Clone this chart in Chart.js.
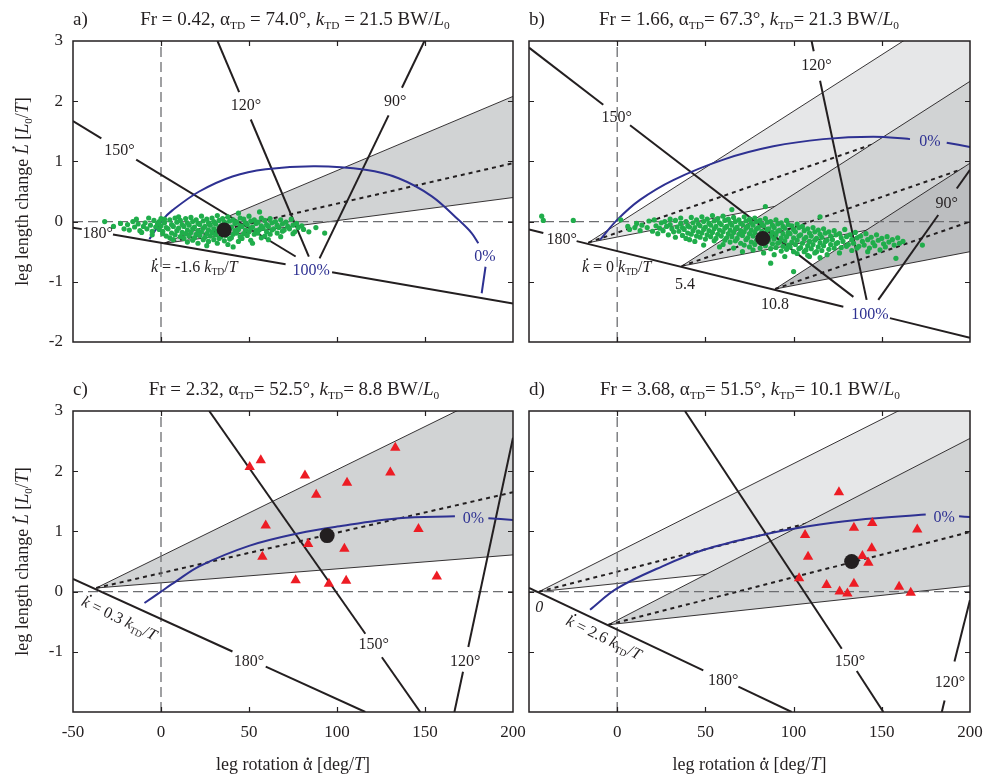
<!DOCTYPE html>
<html lang="en">
<head>
<meta charset="UTF-8">
<title>Leg rotation vs leg length change</title>
<script src="https://cdn.jsdelivr.net/npm/chart.js"></script>
<style>
  body { margin: 0; background: #fff; }
  #wrap { position: relative; width: 989px; height: 781px; }
  #wrap canvas { position: absolute; }
</style>
</head>
<body>
<div id="wrap">
  <canvas id="cA" width="521" height="370" style="left:0;top:0"></canvas>
  <canvas id="cB" width="468" height="370" style="left:521px;top:0"></canvas>
  <canvas id="cC" width="530" height="411" style="left:0;top:370px"></canvas>
  <canvas id="cD" width="468" height="411" style="left:521px;top:370px"></canvas>
</div>
<script>
  const FONT = 'Liberation Serif';
  const INK = '#231f20';
  const BLUE = '#2e3192';
  const GREEN = '#20ad4b';
  const RED = '#ed1c24';
  const DASH_GRAY = '#6d6e71';

  // axes
  const xTicks = [-50, 0, 50, 100, 150, 200];
  const xTickLabels = ['-50', '0', '50', '100', '150', '200'];
  const yTicks = [-2, -1, 0, 1, 2, 3];
  const yTickLabels = ['-2', '-1', '0', '1', '2', '3'];
  const xZero = [[0, -2], [0, 3]];
  const yZero = [[-50, 0], [200, 0]];

  // panel titles
  const aTitle = ['Fr = 0.42, α', {s: 'TD'}, ' = 74.0°, ', {i: 'k'}, {s: 'TD'}, ' = 21.5 BW/', {i: 'L'}, {s: '0'}];
  const bTitle = ['Fr = 1.66, α', {s: 'TD'}, '= 67.3°, ', {i: 'k'}, {s: 'TD'}, '= 21.3 BW/', {i: 'L'}, {s: '0'}];
  const cTitle = ['Fr = 2.32, α', {s: 'TD'}, '= 52.5°, ', {i: 'k'}, {s: 'TD'}, '= 8.8 BW/', {i: 'L'}, {s: '0'}];
  const dTitle = ['Fr = 3.68, α', {s: 'TD'}, '= 51.5°, ', {i: 'k'}, {s: 'TD'}, '= 10.1 BW/', {i: 'L'}, {s: '0'}];

  // wedges: [apex, upper end, lower end, mid (dotted) end]
  const aWedges = [[[2, -0.36], [200, 2.08], [200, 0.40], [200, 0.97]]];
  const bWedges = [
    [[-16.4, -0.35], [200, 3.71], [200, 0.883], [200, 1.844]],
    [[36.5, -0.74], [200, 2.33], [200, 0.19], [200, 0.916]],
    [[89.5, -1.12], [200, 0.97], [200, -0.5], [200, 0.0]]
  ];
  const cWedges = [[[-36.8, 0.06], [200, 3.46], [200, 0.61], [200, 1.65]]];
  const dWedges = [
    [[-44.3, 0.0], [200, 3.60], [200, 0.74], [200, 1.82]],
    [[-5, -0.55], [200, 2.545], [200, 0.095], [200, 0.99]]
  ];

  // angle lines (null = gap for label)
  const aLine150 = [[-50, 1.67], [-33.9, 1.384], null, [-14.1, 1.031], [76.5, -0.58]];
  const aLine120 = [[32.1, 3], [44.4, 2.15], null, [51, 1.696], [84, -0.58]];
  const aLine90 = [[149.7, 3], [136.9, 2.224], null, [129.3, 1.764], [90.1, -0.61]];
  const aLine180 = [[-50, -0.1], [-45, -0.125], null, [-27.3, -0.214], [70.8, -0.709], null, [97.2, -0.842], [200, -1.36]];
  const bLine150 = [[-50, 2.89], [-7.9, 1.94], null, [7.3, 1.60], [133.9, -1.25]];
  const bLine120 = [[110.2, 3], [111.4, 2.83], null, [115, 2.34], [141.4, -1.3]];
  const bLine90 = [[200, 0.86], [192.5, 0.55], null, [182, 0.11], [148, -1.3]];
  const bLine180 = [[-50, -0.13], [-41.9, -0.19], null, [-23, -0.324], [128.2, -1.413], null, [154.6, -1.603], [200, -1.93]];
  const cLine180 = [[-50, 0.21], [40.6, -0.995], null, [59.5, -1.246], [116.1, -2.0]];
  const cLine150 = [[27.4, 3], [116.1, -0.70], null, [125.5, -1.09], [147.3, -2.0]];
  const cLine120 = [[166.7, -2], [171.6, -1.33], null, [174.6, -0.92], [200, 2.556]];
  const dLine180 = [[-50, 0.06], [48.8, -1.31], null, [68.7, -1.58], [98.9, -2.0]];
  const dLine150 = [[38.4, 3], [127.3, -0.95], null, [135.8, -1.32], [150.9, -2.0]];
  const dLine120 = [[184, -2], [185.6, -1.81], null, [191.2, -1.16], [200, -0.14]];

  // 0% curves
  const aBlue = [[-6.6, -0.29], [1, 0.03], [6.6, 0.19], [21.7, 0.5], [40.6, 0.75], [59.5, 0.87], [87.8, 0.92], [116.1, 0.86], [135, 0.72], [153.9, 0.42], [169, 0.03], [176.5, -0.19], [180.3, -0.36], null, [184.4, -0.75], [182.2, -1.19]];
  const bBlue = [[-9.75, -0.305], [-0.3, 0.02], [12.9, 0.36], [31.8, 0.69], [60.2, 1.03], [88.5, 1.25], [116.8, 1.37], [145.2, 1.41], [166, 1.37], null, [186.8, 1.31], [200, 1.24]];
  const cBlue = [[-9.4, -0.19], [0, 0.0], [8.5, 0.17], [21.7, 0.42], [50, 0.76], [78.4, 0.97], [100, 1.08], [135, 1.22], [167, 1.25], null, [186, 1.22], [200, 1.19]];
  const dBlue = [[-15.4, -0.3], [-0.3, 0.05], [25.6, 0.42], [48.8, 0.69], [82.3, 0.94], [107.4, 1.08], [135.8, 1.19], [174.9, 1.28], null, [193.8, 1.25], [200, 1.24]];

  // measured strides (green) and trials (red), means (black)
  const aDots = [[-32,0.0],[-27,-0.08],[-23,-0.03],[-21,-0.12],[-19,-0.05],[-18,-0.14],[-16,0.0],[-15,-0.09],
    [-13,-0.04],[-12,-0.15],[-14,0.04],[-10,-0.08],[-9,-0.02],[-11,-0.18],[-7,0.06],[-6,-0.06],[-8,-0.12],[-5,-0.22],
    [-4,0.02],[-3,-0.09],[-5,-0.16],[-2,-0.04],[-1,0.0],[0,-0.07],[-1,-0.13],[1,-0.2],[0,0.05],
    [2,-0.02],[3,-0.1],[1,-0.16],[3,-0.24],[2,0.04],[5,0.03],[6,-0.05],[4,-0.12],[6,-0.19],[5,-0.27],
    [8,0.06],[9,-0.01],[7,-0.08],[9,-0.15],[8,-0.22],[7,-0.3],[11,0.02],[12,-0.05],[10,-0.11],[12,-0.18],[11,-0.25],[10,0.08],
    [14,0.05],[15,-0.02],[13,-0.08],[15,-0.14],[14,-0.2],[13,-0.28],[15,-0.34],
    [17,0.07],[18,0.0],[16,-0.06],[18,-0.12],[17,-0.18],[16,-0.24],[18,-0.31],
    [20,0.03],[21,-0.03],[19,-0.09],[21,-0.15],[20,-0.21],[19,-0.27],[21,-0.36],
    [23,0.09],[24,0.01],[22,-0.05],[24,-0.11],[23,-0.17],[22,-0.23],[24,-0.3],
    [26,0.04],[27,-0.02],[25,-0.08],[27,-0.14],[26,-0.2],[25,-0.26],[27,-0.33],[26,-0.4],
    [29,0.06],[30,0.0],[28,-0.06],[30,-0.12],[29,-0.18],[28,-0.24],[30,-0.3],
    [32,0.1],[33,0.02],[31,-0.04],[33,-0.1],[32,-0.16],[31,-0.22],[33,-0.28],[32,-0.36],
    [35,0.05],[36,-0.01],[34,-0.07],[36,-0.13],[35,-0.19],[34,-0.25],[36,-0.32],
    [38,0.08],[39,0.01],[37,-0.05],[39,-0.11],[38,-0.17],[37,-0.23],[39,-0.29],[38,-0.38],
    [41,0.03],[42,-0.03],[40,-0.09],[42,-0.15],[41,-0.21],[40,-0.27],[41,-0.42],
    [44,0.14],[45,0.06],[43,-0.01],[45,-0.07],[44,-0.13],[43,-0.19],[45,-0.25],[44,-0.33],
    [47,0.04],[48,-0.02],[46,-0.08],[48,-0.14],[47,-0.2],[46,-0.28],
    [50,0.09],[51,0.01],[49,-0.05],[51,-0.11],[50,-0.17],[49,-0.23],[51,-0.31],
    [53,0.03],[54,-0.03],[52,-0.09],[54,-0.15],[53,-0.21],[52,-0.36],
    [56,0.16],[57,0.06],[55,-0.01],[57,-0.07],[56,-0.13],[55,-0.19],[57,-0.27],
    [59,0.02],[60,-0.05],[58,-0.11],[60,-0.17],[59,-0.24],[62,0.05],[63,-0.02],[61,-0.08],[63,-0.14],[62,-0.21],[61,-0.3],
    [65,0.0],[66,-0.06],[64,-0.12],[66,-0.19],[68,0.03],[69,-0.04],[67,-0.1],[69,-0.16],[68,-0.25],
    [71,-0.01],[72,-0.08],[70,-0.14],[74,0.04],[75,-0.06],[73,-0.12],[75,-0.2],
    [77,-0.03],[78,-0.1],[76,-0.17],[80,-0.07],[81,-0.13],[84,-0.17],[88,-0.1],[93,-0.19]];
  const bDots = [[-42.8,0.09],[-41.9,0.02],[-24.9,0.02],
    [2,0.03],[6,-0.08],[7,-0.13],[10,-0.1],[11,-0.03],[14,-0.06],[13,-0.15],
    [18,0.01],[17,-0.1],[21,0.03],[22,-0.07],[20,-0.16],[24,-0.11],[25,-0.02],[23,-0.2],[27,0.0],[28,-0.08],[26,-0.15],
    [30,-0.05],[31,-0.12],[29,-0.22],[30,0.04],[33,0.02],[34,-0.09],[32,-0.17],[33,-0.26],
    [36,-0.03],[37,-0.1],[35,-0.16],[37,-0.23],[36,0.06],[39,0.0],[40,-0.07],[38,-0.13],[40,-0.19],[39,-0.28],
    [42,0.07],[43,-0.02],[41,-0.09],[43,-0.15],[42,-0.21],[41,-0.3],[45,0.03],[46,-0.04],[44,-0.1],[46,-0.17],[45,-0.24],[44,-0.33],
    [48,0.08],[49,0.0],[47,-0.07],[49,-0.13],[48,-0.19],[47,-0.26],[49,-0.39],
    [51,0.04],[52,-0.03],[50,-0.09],[52,-0.15],[51,-0.22],[50,-0.29],
    [54,0.1],[55,0.01],[53,-0.06],[55,-0.12],[54,-0.18],[53,-0.25],[55,-0.32],
    [57,0.05],[58,-0.02],[56,-0.08],[58,-0.14],[57,-0.21],[56,-0.28],[58,-0.42],
    [60,0.09],[61,0.02],[59,-0.05],[61,-0.11],[60,-0.17],[59,-0.24],[61,-0.31],[60,-0.38],
    [65,0.2],[63,0.04],[64,-0.02],[62,-0.08],[64,-0.14],[63,-0.2],[62,-0.27],[64,-0.34],
    [66,0.07],[67,0.0],[65,-0.06],[67,-0.12],[66,-0.18],[65,-0.25],[67,-0.32],[66,-0.44],
    [69,0.03],[70,-0.03],[68,-0.09],[70,-0.15],[69,-0.21],[68,-0.28],[70,-0.36],
    [72,0.08],[73,0.01],[71,-0.05],[73,-0.11],[72,-0.17],[71,-0.23],[73,-0.3],[72,-0.39],[71,-0.5],
    [75,0.04],[76,-0.02],[74,-0.08],[76,-0.14],[75,-0.2],[74,-0.27],[76,-0.34],[75,-0.42],
    [78,0.06],[79,0.0],[77,-0.06],[79,-0.12],[78,-0.18],[77,-0.24],[79,-0.31],[78,-0.38],[77,-0.47],
    [84,0.25],[81,0.02],[82,-0.04],[80,-0.1],[82,-0.16],[81,-0.22],[80,-0.29],[82,-0.36],[81,-0.44],
    [84,0.05],[85,-0.01],[83,-0.07],[85,-0.13],[84,-0.19],[83,-0.26],[85,-0.33],[84,-0.4],[83,-0.52],
    [87,0.0],[88,-0.06],[86,-0.12],[88,-0.18],[87,-0.24],[86,-0.3],[88,-0.37],[87,-0.45],[87,-0.69],
    [90,0.03],[91,-0.04],[89,-0.1],[91,-0.16],[90,-0.22],[89,-0.29],[91,-0.36],[90,-0.43],[89,-0.55],
    [93,-0.02],[94,-0.08],[92,-0.14],[94,-0.2],[93,-0.27],[92,-0.34],[94,-0.41],[93,-0.49],
    [96,0.02],[97,-0.05],[95,-0.11],[97,-0.18],[96,-0.25],[95,-0.32],[97,-0.39],[96,-0.46],[95,-0.58],
    [99,-0.07],[100,-0.13],[98,-0.2],[100,-0.27],[99,-0.34],[98,-0.42],[100,-0.5],[100,-0.83],
    [102,-0.04],[103,-0.1],[101,-0.17],[103,-0.24],[102,-0.31],[101,-0.38],[103,-0.45],[102,-0.53],
    [105,-0.08],[106,-0.15],[104,-0.22],[106,-0.29],[105,-0.36],[104,-0.43],[106,-0.5],[109,-0.58],
    [108,-0.12],[109,-0.19],[107,-0.26],[109,-0.33],[108,-0.4],[107,-0.47],[108,-0.56],
    [115,0.08],[111,-0.1],[112,-0.17],[110,-0.24],[112,-0.31],[111,-0.38],[110,-0.45],[112,-0.52],
    [114,-0.14],[115,-0.21],[113,-0.28],[115,-0.35],[114,-0.42],[113,-0.5],[115,-0.6],
    [117,-0.12],[118,-0.19],[116,-0.26],[118,-0.33],[117,-0.4],[116,-0.48],
    [120,-0.17],[121,-0.24],[119,-0.31],[121,-0.38],[120,-0.46],[119,-0.55],
    [123,-0.15],[124,-0.22],[122,-0.3],[124,-0.37],[123,-0.44],[126,-0.2],[127,-0.27],[125,-0.35],[127,-0.43],[126,-0.52],
    [129,-0.13],[130,-0.25],[128,-0.33],[130,-0.41],[132,-0.22],[133,-0.3],[131,-0.38],[133,-0.48],
    [135,-0.18],[136,-0.27],[134,-0.36],[136,-0.44],[138,-0.24],[139,-0.33],[137,-0.41],
    [141,-0.2],[142,-0.3],[140,-0.39],[142,-0.5],[144,-0.26],[145,-0.35],[143,-0.44],
    [147,-0.22],[148,-0.31],[146,-0.4],[150,-0.28],[151,-0.37],[149,-0.47],
    [153,-0.25],[154,-0.34],[152,-0.42],[156,-0.3],[157,-0.39],[159,-0.27],[160,-0.36],[158,-0.61],[162,-0.33],[173,-0.39]];
  const cTri = [[50.4,2.07],[56.7,2.18],[81.8,1.93],[105.7,1.81],[88.2,1.61],[133.1,2.39],[130.3,1.98],[59.5,1.10],
    [57.6,0.58],[83.6,0.79],[104.2,0.71],[146.3,1.04],[76.5,0.19],[95.4,0.13],[105.2,0.18],[156.7,0.25]];
  const dTri = [[125.7,1.65],[134.2,1.06],[144.6,1.14],[170.1,1.03],[106.5,0.94],[144.3,0.72],[108.2,0.58],[139,0.59],
    [142.4,0.48],[103.1,0.22],[118.7,0.11],[134.2,0.13],[126.1,0.0],[130.5,-0.03],[159.8,0.08],[166.4,-0.02]];
  const aMean = [[35.9, -0.14]];
  const bMean = [[82.5, -0.28]];
  const cMean = [[94.4, 0.93]];
  const dMean = [[132.9, 0.5]];

  // text annotations [x, y, text]; {d: ...} = letter with a dot above (time derivative)
  const kText = v => [{d: 'k', i: true}, ' = ' + v + ' ', {i: 'k'}, {s: 'TD'}, '/', {i: 'T'}];
  const aLabels = [[-23.6, 1.19, '150°'], [48.2, 1.94, '120°'], [133.1, 2.0, '90°'], [-36, -0.18, '180°'], [18.9, -0.75, kText('-1.6')]];
  const aBlueLabels = [[85.3, -0.8, '100%'], [184.1, -0.57, '0%']];
  const bLabels = [[-0.3, 1.75, '150°'], [113, 2.61, '120°'], [186.8, 0.31, '90°'], [-31.5, -0.28, '180°'],
    [-0.3, -0.75, kText('0')], [38.4, -1.03, '5.4'], [89.5, -1.37, '10.8']];
  const bBlueLabels = [[177.3, 1.35, '0%'], [143.3, -1.53, '100%']];
  const cLabels = [[50, -1.14, '180°'], [120.8, -0.87, '150°'], [172.8, -1.14, '120°']];
  const cSlantLabels = [[-23.6, -0.44, kText('0.3')]];
  const cBlueLabels = [[177.5, 1.22, '0%']];
  const dLabels = [[60.1, -1.47, '180°'], [132, -1.14, '150°'], [188.7, -1.5, '120°'], [-44.2, -0.25, [{i: '0'}]]];
  const dSlantLabels = [[-7.5, -0.76, kText('2.6')]];
  const dBlueLabels = [[185.3, 1.25, '0%']];

  const yTitle = ['leg length change ', {d: 'L', i: true}, ' [', {i: 'L'}, {s: '0'}, '/', {i: 'T'}, ']'];
  const xTitle = ['leg rotation ', {d: 'α', low: true}, ' [deg/', {i: 'T'}, ']'];

  // ---------- helpers ----------
  function drawRich(ctx, parts, x, y, size, color, align) {
    if (!Array.isArray(parts)) parts = [parts];
    const items = parts.map(p => {
      const o = typeof p === 'string' ? {t: p} : p;
      const text = o.s || o.d || (typeof o.i === 'string' ? o.i : null) || o.t;
      const sz = o.s ? size * 0.6 : size;
      const font = (o.i ? 'italic ' : '') + sz + 'px "' + FONT + '"';
      ctx.font = font;
      return {text, font, w: ctx.measureText(text).width, dy: o.s ? size * 0.2 : 0,
        dot: o.d ? (o.low ? 0.62 : 0.8) : 0, slant: !!o.i};
    });
    const total = items.reduce((a, b) => a + b.w, 0);
    let cx = align === 'left' ? x : x - total / 2;
    const base = y + size * 0.33;
    ctx.fillStyle = color;
    ctx.textBaseline = 'alphabetic';
    ctx.textAlign = 'left';
    for (const it of items) {
      ctx.font = it.font;
      ctx.fillText(it.text, cx, base + it.dy);
      if (it.dot) {
        ctx.beginPath();
        ctx.arc(cx + it.w / 2 + (it.slant ? size * 0.1 : 0), base - size * it.dot, size * 0.065, 0, Math.PI * 2);
        ctx.fill();
      }
      cx += it.w;
    }
  }

  function segments(poly) {
    const out = [];
    let cur = [];
    for (const p of poly) {
      if (p === null) { if (cur.length) out.push(cur); cur = []; }
      else cur.push({x: p[0], y: p[1]});
    }
    if (cur.length) out.push(cur);
    return out;
  }
  const pts = arr => arr.map(p => ({x: p[0], y: p[1]}));

  function makeDeco(p) {
    return {
      id: 'deco',
      afterDatasetsDraw(chart) {
        const {ctx, chartArea: ca, scales: {x, y}} = chart;
        ctx.save();
        ctx.beginPath();
        ctx.rect(ca.left, ca.top, ca.right - ca.left, ca.bottom - ca.top);
        ctx.clip();
        const put = (list, color, rot) => list.forEach(([lx, ly, t]) => {
          ctx.save();
          ctx.translate(x.getPixelForValue(lx), y.getPixelForValue(ly));
          if (rot) ctx.rotate(rot * Math.PI / 180);
          drawRich(ctx, t, 0, 0, 16, color, 'center');
          ctx.restore();
        });
        put(p.labels, INK, 0);
        put(p.blueLabels, BLUE, 0);
        put(p.slantLabels || [], INK, 26);
        ctx.restore();
      },
      afterDraw(chart) {
        const {ctx, chartArea: ca, scales: {x, y}} = chart;
        ctx.save();
        ctx.strokeStyle = INK;
        ctx.lineWidth = 1.2;
        ctx.beginPath();
        xTicks.slice(1, -1).forEach(v => {
          const px = Math.round(x.getPixelForValue(v)) + 0.5;
          ctx.moveTo(px, ca.top); ctx.lineTo(px, ca.top + 5);
          ctx.moveTo(px, ca.bottom); ctx.lineTo(px, ca.bottom - 5);
        });
        yTicks.slice(1, -1).forEach(v => {
          const py = Math.round(y.getPixelForValue(v)) + 0.5;
          ctx.moveTo(ca.left, py); ctx.lineTo(ca.left + 5, py);
          ctx.moveTo(ca.right, py); ctx.lineTo(ca.right - 5, py);
        });
        ctx.stroke();
        ctx.lineWidth = 1.5;
        ctx.strokeRect(ca.left, ca.top, ca.right - ca.left, ca.bottom - ca.top);
        drawRich(ctx, p.letter, ca.left, 19, 19, INK, 'left');
        drawRich(ctx, p.title, p.titleX, 19, 19, INK, 'center');
        if (p.yTitle) {
          ctx.save();
          ctx.translate(22, (ca.top + ca.bottom) / 2);
          ctx.rotate(-Math.PI / 2);
          drawRich(ctx, yTitle, 0, 0, 18, INK, 'center');
          ctx.restore();
        }
        if (p.xTitle) drawRich(ctx, xTitle, (ca.left + ca.right) / 2, 394, 18, INK, 'center');
        ctx.restore();
      }
    };
  }

  function makeChart(id, p) {
    const datasets = [];
    let layer = 0;
    const add = ds => { ds.order = 1000 - layer++; datasets.push(ds); };
    const line = (data, color, width, dash) => ({
      data, borderColor: color, borderWidth: width, borderDash: dash || [], pointRadius: 0,
      fill: false, tension: 0, showLine: true
    });
    p.wedges.forEach((w, k) => {
      const [apex, up, lo, mid] = w;
      add({data: pts([apex, up, lo]), fill: 'shape', backgroundColor: p.shades[k],
        borderColor: 'rgba(0,0,0,0)', borderWidth: 0, pointRadius: 0, showLine: true});
      add(line(pts([apex, up]), INK, 0.9));
      add(line(pts([apex, lo]), INK, 0.9));
      add(line(pts([apex, mid]), INK, 2, [4, 4]));
    });
    add(line(pts(xZero), DASH_GRAY, 1.3, [10, 5]));
    add(line(pts(yZero), DASH_GRAY, 1.3, [10, 5]));
    p.lines.forEach(poly => segments(poly).forEach(s => add(line(s, INK, 2))));
    segments(p.blue).forEach(s => add(Object.assign(line(s, BLUE, 2), {tension: 0.35})));
    if (p.dots) add({data: pts(p.dots), showLine: false, pointRadius: 2.6, pointBackgroundColor: GREEN,
      pointBorderWidth: 0, pointBorderColor: GREEN, pointHoverRadius: 0});
    if (p.tri) add({data: pts(p.tri), showLine: false, pointStyle: 'triangle', pointRadius: 6,
      pointBackgroundColor: RED, pointBorderWidth: 0, pointBorderColor: RED, pointHoverRadius: 0});
    add({data: pts(p.mean), showLine: false, pointRadius: 7.5, pointBackgroundColor: INK,
      pointBorderWidth: 0, pointBorderColor: INK, pointHoverRadius: 0});

    return new Chart(document.getElementById(id), {
      type: 'line',
      data: {datasets},
      options: {
        responsive: false,
        animation: false,
        events: [],
        layout: {padding: {left: 0, top: 41, right: p.padR, bottom: p.padB}},
        plugins: {legend: {display: false}, tooltip: {enabled: false}},
        scales: {
          x: {
            type: 'linear', min: -50, max: 200,
            ticks: {stepSize: 50, display: p.xShown.some(Boolean), padding: 10, maxRotation: 0, autoSkip: false,
              color: INK, font: {family: FONT, size: 17},
              callback: v => { const i = xTicks.indexOf(v); return i >= 0 && p.xShown[i] ? xTickLabels[i] : ''; }},
            grid: {display: false, drawTicks: false},
            border: {display: false},
            afterFit: s => { s.height = p.xH; s.paddingLeft = 0; s.paddingRight = 0; }
          },
          y: {
            type: 'linear', min: -2, max: 3,
            ticks: {stepSize: 1, display: p.yShown.some(Boolean), padding: 10,
              color: INK, font: {family: FONT, size: 17},
              callback: v => { const i = yTicks.indexOf(v); return i >= 0 && p.yShown[i] ? yTickLabels[i] : ''; }},
            grid: {display: false, drawTicks: false},
            border: {display: false},
            afterFit: s => { s.width = p.yW; s.paddingTop = 0; s.paddingBottom = 0; }
          }
        }
      },
      plugins: [makeDeco(p)]
    });
  }

  const none = [false, false, false, false, false, false];

  makeChart('cA', {
    letter: 'a)', title: aTitle, titleX: 295, wedges: aWedges, shades: ['#d1d3d4'],
    lines: [aLine150, aLine120, aLine90, aLine180], blue: aBlue, dots: aDots, mean: aMean,
    labels: aLabels, blueLabels: aBlueLabels, yTitle: true,
    xShown: none, yShown: [true, true, true, true, true, true], yW: 73, xH: 0, padR: 8, padB: 28
  });
  makeChart('cB', {
    letter: 'b)', title: bTitle, titleX: 228, wedges: bWedges, shades: ['#e6e7e8', '#d1d3d4', '#bcbec0'],
    lines: [bLine150, bLine120, bLine90, bLine180], blue: bBlue, dots: bDots, mean: bMean,
    labels: bLabels, blueLabels: bBlueLabels,
    xShown: none, yShown: none, yW: 8, xH: 0, padR: 19, padB: 28
  });
  makeChart('cC', {
    letter: 'c)', title: cTitle, titleX: 294, wedges: cWedges, shades: ['#d1d3d4'],
    lines: [cLine180, cLine150, cLine120], blue: cBlue, tri: cTri, mean: cMean,
    labels: cLabels, blueLabels: cBlueLabels, slantLabels: cSlantLabels, yTitle: true, xTitle: true,
    xShown: [true, true, true, true, true, true], yShown: [false, true, true, true, true, true],
    yW: 73, xH: 69, padR: 17, padB: 0
  });
  makeChart('cD', {
    letter: 'd)', title: dTitle, titleX: 229, wedges: dWedges, shades: ['#e6e7e8', '#d1d3d4'],
    lines: [dLine180, dLine150, dLine120], blue: dBlue, tri: dTri, mean: dMean,
    labels: dLabels, blueLabels: dBlueLabels, slantLabels: dSlantLabels, xTitle: true,
    xShown: [false, true, true, true, true, true], yShown: none,
    yW: 8, xH: 69, padR: 19, padB: 0
  });
</script>
</body>
</html>
